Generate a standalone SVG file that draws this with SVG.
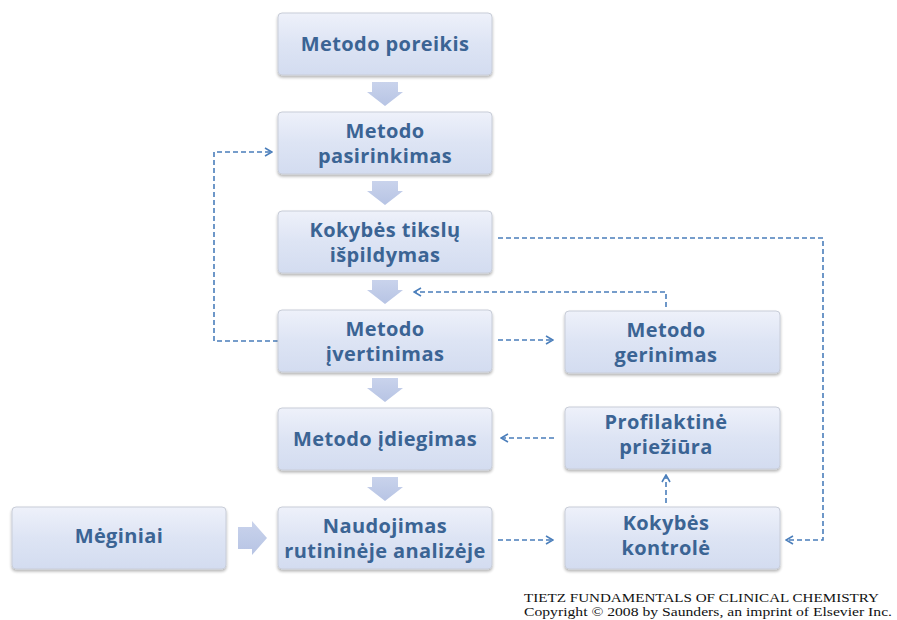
<svg xmlns="http://www.w3.org/2000/svg" width="897" height="620" viewBox="0 0 897 620">
<defs>
<linearGradient id="g" x1="0" y1="0" x2="0" y2="1">
<stop offset="0" stop-color="#eef1fa"/>
<stop offset="0.5" stop-color="#dde4f4"/>
<stop offset="1" stop-color="#d3dcf0"/>
</linearGradient>
<linearGradient id="ga" x1="0" y1="0" x2="0" y2="1">
<stop offset="0" stop-color="#c9d3ec"/>
<stop offset="1" stop-color="#b7c4e4"/>
</linearGradient>
<filter id="sh" x="-10%" y="-10%" width="120%" height="130%">
<feGaussianBlur in="SourceAlpha" stdDeviation="1.5"/>
<feOffset dx="0" dy="2" result="b"/>
<feComponentTransfer><feFuncA type="linear" slope="0.3"/></feComponentTransfer>
<feMerge><feMergeNode/><feMergeNode in="SourceGraphic"/></feMerge>
</filter>
<marker id="ah" viewBox="0 0 10 10" refX="9" refY="5" markerWidth="10" markerHeight="10" markerUnits="userSpaceOnUse" orient="auto">
<path d="M2,1 L9,5 L2,9" fill="none" stroke="#4a7ebb" stroke-width="1.6"/>
</marker>
</defs>
<style>
.box{fill:url(#g);stroke:#c8cdd8;stroke-width:1;filter:url(#sh)}
.t{font-family:"Open Sans","Noto Sans",sans-serif;font-weight:bold;font-size:20px;letter-spacing:0.4px;fill:#3b6494;text-anchor:middle}
.d{fill:none;stroke:#4a7ebb;stroke-width:1.6;stroke-dasharray:5 3}
.ba{fill:url(#ga)}
.c{font-family:"Liberation Serif",serif;font-size:12.5px;fill:#111}
</style>
<rect width="897" height="620" fill="#fff"/>
<g id="connectors">
<path class="ba" d="M372,82 H398 V92 H403 L385,106 L367,92 H372 Z"/>
<path class="ba" d="M372,181 H398 V191 H403 L385,205 L367,191 H372 Z"/>
<path class="ba" d="M372,280 H398 V290 H403 L385,304 L367,290 H372 Z"/>
<path class="ba" d="M372,378 H398 V388 H403 L385,402 L367,388 H372 Z"/>
<path class="ba" d="M372,477 H398 V487 H403 L385,501 L367,487 H372 Z"/>
<path class="ba" d="M238,527 H252 V521 L267,538 L252,555 V549 H238 Z"/>
<path class="d" d="M278,341 H214 V152 H272" marker-end="url(#ah)"/>
<path class="d" d="M498,238 H823 V540 H786" marker-end="url(#ah)"/>
<path class="d" d="M666,307 V292 H414" marker-end="url(#ah)"/>
<path class="d" d="M498,340 H553" marker-end="url(#ah)"/>
<path class="d" d="M554,438 H501" marker-end="url(#ah)"/>
<path class="d" d="M666,503 V475" marker-end="url(#ah)"/>
<path class="d" d="M498,540 H553" marker-end="url(#ah)"/>
</g>
<g id="n1"><rect class="box" x="278" y="13" width="214" height="62" rx="4"/><text class="t" x="385" y="51">Metodo poreikis</text></g>
<g id="n2"><rect class="box" x="278" y="112" width="214" height="62" rx="4"/><text class="t" x="385" y="138">Metodo</text><text class="t" x="385" y="163">pasirinkimas</text></g>
<g id="n3"><rect class="box" x="278" y="211" width="214" height="62" rx="4"/><text class="t" x="385" y="237">Kokybės tikslų</text><text class="t" x="385" y="262">išpildymas</text></g>
<g id="n4"><rect class="box" x="278" y="310" width="214" height="62" rx="4"/><text class="t" x="385" y="336">Metodo</text><text class="t" x="385" y="361">įvertinimas</text></g>
<g id="n5"><rect class="box" x="278" y="408" width="214" height="62" rx="4"/><text class="t" x="385" y="446">Metodo įdiegimas</text></g>
<g id="n6"><rect class="box" x="278" y="507" width="214" height="62" rx="4"/><text class="t" x="385" y="533">Naudojimas</text><text class="t" x="385" y="558">rutininėje analizėje</text></g>
<g id="n7"><rect class="box" x="12" y="507" width="214" height="62" rx="4"/><text class="t" x="119" y="543">Mėginiai</text></g>
<g id="n8"><rect class="box" x="565" y="311" width="215" height="62" rx="4"/><text class="t" x="666" y="337">Metodo</text><text class="t" x="666" y="362">gerinimas</text></g>
<g id="n9"><rect class="box" x="565" y="407" width="215" height="62" rx="4"/><text class="t" x="666" y="429">Profilaktinė</text><text class="t" x="666" y="454">priežiūra</text></g>
<g id="n10"><rect class="box" x="565" y="507" width="215" height="62" rx="4"/><text class="t" x="666" y="530">Kokybės</text><text class="t" x="666" y="555">kontrolė</text></g>
<text class="c" x="524" y="602" textLength="355" lengthAdjust="spacingAndGlyphs">TIETZ FUNDAMENTALS OF CLINICAL CHEMISTRY</text>
<text class="c" x="524" y="616" textLength="368" lengthAdjust="spacingAndGlyphs">Copyright © 2008 by Saunders, an imprint of Elsevier Inc.</text>
</svg>
